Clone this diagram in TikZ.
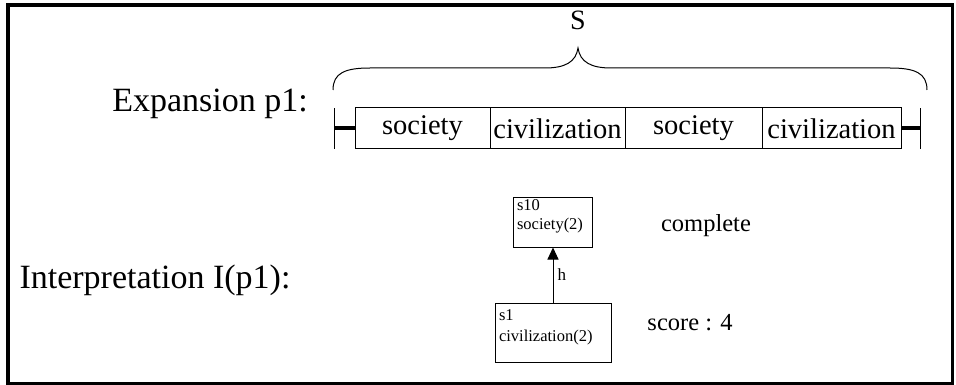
\documentclass[tikz,border=0pt]{standalone}
\usepackage{fontspec}
\setmainfont{Liberation Serif}
\usetikzlibrary{arrows.meta}
% a state box: width, height, font size, line spacing, first baseline, contents
\newcommand\stateparbox[6]{\parbox[c][#2][t]{#1}{\raggedright\leftskip=4pt
  \fontsize{#3}{#4}\selectfont\rule{0pt}{#5}#6}}
\begin{document}
\begin{tikzpicture}[x=1pt,y=-1pt,
  frame/.style={line width=3.5pt},
  cell/.style={draw,line width=1pt,minimum width=135pt,minimum height=41pt,inner sep=0pt,font=\fontsize{28.5}{30}\selectfont},
  state/.style={draw,line width=1pt,inner sep=0pt},
  big/.style={font=\fontsize{34}{36}\selectfont},
  mid/.style={font=\fontsize{24.5}{26}\selectfont}]
\useasboundingbox (0,0) rectangle (956,385);
\draw[frame] (8,5) rectangle (952.5,383.5);

% labels on the left
\node[big] (exp) at (210,104) {Expansion p1:};
\node[big] (interp) at (155,280) {Interpretation I(p1):};

% the expansion strip
\node[cell,minimum width=135pt] (c1) at (422.5,128.5) {society};
\node[cell,minimum width=135pt] (c2) at (557.5,128.5) {civilization};
\node[cell,minimum width=137pt] (c3) at (693.5,128.5) {society};
\node[cell,minimum width=139pt] (c4) at (831.5,128.5) {civilization};
\coordinate (lend) at (334,128.5);
\coordinate (rend) at (920,128.5);
\draw[line width=4pt] (lend) -- (c1.west);
\draw[line width=4pt] (c4.east) -- (rend);
\draw[line width=1pt] ([yshift=-20.5pt]lend) -- ([yshift=20.5pt]lend);
\draw[line width=1pt] ([yshift=-20.5pt]rend) -- ([yshift=20.5pt]rend);

% brace over the strip
\node[font=\fontsize{28}{30}\selectfont] (S) at (578,20) {S};
\draw[line width=1pt] (333,90) .. controls (333,73) and (345,68) .. (370,68)
  -- (545,68) .. controls (565,68) and (576,62) .. (578,48)
  .. controls (580,62) and (591,68) .. (611,68)
  -- (890,68) .. controls (915,68) and (927,73) .. (927,90);

% interpretation states
\node[state] (s10) at (552.5,222) {\stateparbox{79pt}{50pt}{16.5}{18}{14pt}{s10\\society(2)}};
\node[state] (s1) at (553,332.5) {\stateparbox{116pt}{59pt}{16.5}{21}{17pt}{s1\\civilization(2)}};
\draw[line width=1pt,-{Triangle[length=12pt,width=11pt]}] (s1.north -| 553,0) -- node[right,font=\fontsize{17}{18}\selectfont,inner sep=4pt] {h} (s10.south -| 553,0);

\node[mid] (complete) at (706,226) {complete};
\node[mid] (score) at (690,323) {score : 4};
\end{tikzpicture}
\end{document}
